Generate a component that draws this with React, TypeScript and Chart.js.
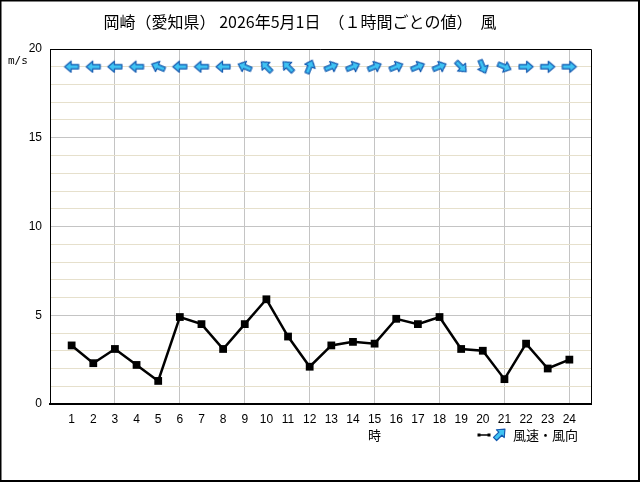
import React, { useEffect, useRef } from "react";
import { Chart, registerables } from "chart.js";

Chart.register(...registerables);

const hours = [1, 2, 3, 4, 5, 6, 7, 8, 9, 10, 11, 12, 13, 14, 15, 16, 17, 18, 19, 20, 21, 22, 23, 24];
const windSpeed = [3.3, 2.3, 3.1, 2.2, 1.3, 4.9, 4.5, 3.1, 4.5, 5.9, 3.8, 2.1, 3.3, 3.5, 3.4, 4.8, 4.5, 4.9, 3.1, 3.0, 1.4, 3.4, 2.0, 2.5];
const windDir = ["東", "東", "東", "東", "東南東", "東", "東", "東", "東南東", "南東", "南東", "南南西", "西南西", "西南西", "西南西", "西南西", "西南西", "西南西", "北西", "北北西", "西北西", "西", "西", "西"];
const compass16 = ["北", "北北東", "北東", "東北東", "東", "東南東", "南東", "南南東", "南", "南南西", "南西", "西南西", "西", "西北西", "北西", "北北西"];
const yTickLabels = [0, 5, 10, 15, 20];
const arrowRowLevel = 19;
const titleText = "岡崎（愛知県） 2026年5月1日　（１時間ごとの値）　風";
const unitText = "m/s";
const xAxisTitle = "時";
const legendText = "風速・風向";

const ARROW_FILL = "#3fc3f3";
const ARROW_STROKE = "#1459b0";
const CJK = "'Noto Sans CJK JP', sans-serif";
const NUM = "'Liberation Sans', Arial, sans-serif";

function drawArrowShape(ctx: CanvasRenderingContext2D) {
  // arrow pointing right, centred at 0,0
  ctx.beginPath();
  ctx.moveTo(-7, -2.2);
  ctx.lineTo(0.5, -2.2);
  ctx.lineTo(0.5, -5.5);
  ctx.lineTo(7, 0);
  ctx.lineTo(0.5, 5.5);
  ctx.lineTo(0.5, 2.2);
  ctx.lineTo(-7, 2.2);
  ctx.closePath();
  ctx.fillStyle = ARROW_FILL;
  ctx.fill();
  ctx.lineWidth = 1.2;
  ctx.strokeStyle = ARROW_STROKE;
  ctx.lineJoin = "round";
  ctx.stroke();
}

function makeArrowCanvas(): HTMLCanvasElement {
  const c = document.createElement("canvas");
  c.width = 18;
  c.height = 18;
  const ctx = c.getContext("2d")!;
  ctx.translate(9, 9);
  drawArrowShape(ctx);
  return c;
}

function rotationFor(dir: string): number {
  const idx = compass16.indexOf(dir);
  const fromBearing = idx * 22.5;
  return fromBearing + 90; // arrow points where the wind goes; base image points right
}

const decorPlugin = {
  id: "decor",
  beforeDraw(chart: any) {
    const { ctx, width, height } = chart;
    ctx.save();
    ctx.fillStyle = "#ffffff";
    ctx.fillRect(0, 0, width, height);
    ctx.restore();
  },
  afterDraw(chart: any) {
    const { ctx, width, height, chartArea } = chart;
    const xs = chart.scales.x;
    ctx.save();
    // outer frame
    ctx.strokeStyle = "#000";
    ctx.lineWidth = 2;
    ctx.strokeRect(0.5, 0.5, width - 1.5, height - 1.5);
    // plot frame top & right
    ctx.lineWidth = 1;
    ctx.beginPath();
    ctx.moveTo(chartArea.left, chartArea.top + 0.5);
    ctx.lineTo(chartArea.right + 0.5, chartArea.top + 0.5);
    ctx.lineTo(chartArea.right + 0.5, chartArea.bottom);
    ctx.stroke();
    // title
    ctx.fillStyle = "#000";
    ctx.font = `16px ${CJK}`;
    ctx.textAlign = "center";
    ctx.textBaseline = "middle";
    ctx.fillText(titleText, 300, 22);
    // unit
    ctx.font = `11px 'DejaVu Sans Mono', monospace`;
    ctx.textAlign = "left";
    ctx.fillText(unitText, 8, 61);
    // x axis title under 15
    ctx.font = `13px ${CJK}`;
    ctx.textAlign = "center";
    ctx.fillText(xAxisTitle, xs.getPixelForValue(15), 435);
    // legend: line marker icon
    const lx = chartArea.right - 112;
    const ly = 435;
    ctx.strokeStyle = "#000";
    ctx.lineWidth = 1.5;
    ctx.beginPath();
    ctx.moveTo(lx, ly);
    ctx.lineTo(lx + 10, ly);
    ctx.stroke();
    ctx.fillStyle = "#000";
    ctx.fillRect(lx - 1.5, ly - 1.5, 3, 3);
    ctx.fillRect(lx + 8.5, ly - 1.5, 3, 3);
    // legend arrow
    ctx.save();
    ctx.translate(lx + 21, ly - 1);
    ctx.rotate((-45 * Math.PI) / 180);
    drawArrowShape(ctx);
    ctx.restore();
    // legend text
    ctx.fillStyle = "#000";
    ctx.font = `13px ${CJK}`;
    ctx.textAlign = "left";
    ctx.fillText(legendText, lx + 34, ly);
    ctx.restore();
  },
};

export default function App() {
  const ref = useRef<HTMLCanvasElement | null>(null);

  useEffect(() => {
    document.body.style.margin = "0";
    const canvas = ref.current;
    if (!canvas) return;
    const arrowImg = makeArrowCanvas();

    const chart = new Chart(canvas, {
      type: "line",
      data: {
        datasets: [
          {
            label: "風速",
            data: hours.map((h, i) => ({ x: h, y: windSpeed[i] })),
            borderColor: "#000",
            backgroundColor: "#000",
            borderWidth: 2.5,
            pointStyle: "rect",
            pointRadius: 5.5,
            pointBorderWidth: 0,
            tension: 0,
          },
          {
            label: "風向",
            data: hours.map((h) => ({ x: h, y: arrowRowLevel })),
            showLine: false,
            pointStyle: arrowImg as any,
            pointRotation: windDir.map((d) => rotationFor(d)),
            pointRadius: 8,
          } as any,
        ],
      },
      options: {
        animation: false,
        responsive: false,
        devicePixelRatio: 1,
        layout: { padding: { top: 49, right: 49, left: 0, bottom: 0 } },
        plugins: {
          legend: { display: false },
          tooltip: { enabled: false },
          title: { display: false },
        },
        scales: {
          x: {
            type: "linear",
            min: 0,
            max: 25,
            ticks: {
              stepSize: 1,
              autoSkip: false,
              maxRotation: 0,
              padding: 8,
              color: "#000",
              font: { family: NUM, size: 12 },
              callback: (v: any) => (hours.includes(Number(v)) ? String(v) : ""),
            },
            grid: {
              drawTicks: false,
              color: (c: any) => {
                const v = c.tick?.value;
                return v > 0 && v < 25 && v % 3 === 0 ? "#c4c4c4" : "rgba(0,0,0,0)";
              },
              lineWidth: 1,
            },
            border: { color: "#000", width: 2 },
            afterFit: (s: any) => {
              s.height = 78;
            },
          },
          y: {
            type: "linear",
            min: 0,
            max: 20,
            ticks: {
              stepSize: 1,
              autoSkip: false,
              padding: 8,
              color: "#000",
              font: { family: NUM, size: 12 },
              callback: (v: any) => (yTickLabels.includes(Number(v)) ? String(v) : ""),
            },
            grid: {
              drawTicks: false,
              color: (c: any) => {
                const v = c.tick?.value;
                return v % 5 === 0 ? "#c4c4c4" : "#e6e0cc";
              },
              lineWidth: 1,
            },
            border: { color: "#000", width: 1 },
            afterFit: (s: any) => {
              s.width = 50;
            },
          },
        },
      },
      plugins: [decorPlugin],
    });
    return () => chart.destroy();
  }, []);

  return (
    <div style={{ width: 640, height: 482 }}>
      <canvas ref={ref} width={640} height={482} style={{ display: "block" }} />
    </div>
  );
}
